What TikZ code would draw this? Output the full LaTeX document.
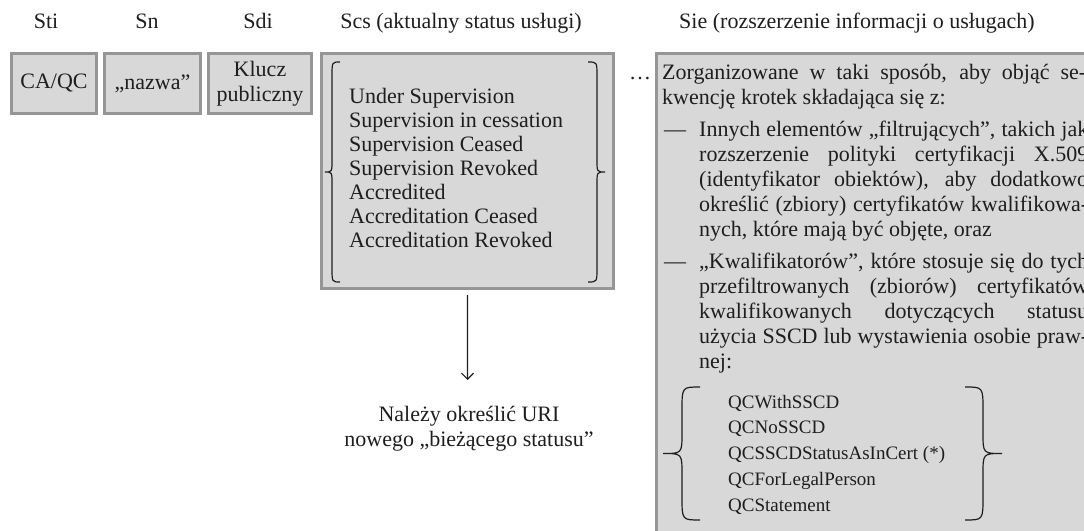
\documentclass[tikz,border=0pt]{standalone}
\usepackage{fontspec}
\setmainfont{Liberation Serif}
\usetikzlibrary{arrows.meta}
\definecolor{boxfill}{RGB}{216,216,216}
\definecolor{boxline}{RGB}{150,150,150}
\definecolor{ink}{RGB}{30,30,30}
\begin{document}
\begin{tikzpicture}[x=1bp,y=-1bp,
  box/.style={draw=boxline, line width=3bp, fill=boxfill, inner sep=0pt, anchor=north west,
              font=\fontsize{22bp}{25bp}\selectfont, text=ink},
  hd/.style={font=\fontsize{22bp}{25bp}\selectfont, inner sep=0pt, anchor=base, text=ink},
  txt/.style={font=\fontsize{22bp}{25bp}\selectfont, inner sep=0pt, anchor=base west, text=ink},
  qc/.style={font=\fontsize{19bp}{25bp}\selectfont, inner sep=0pt, anchor=base west, text=ink},
  br/.style={draw=ink, line width=1.2bp},
  arr/.style={draw=ink, line width=1.2bp, -{Straight Barb[length=6bp,width=12bp]}}
]
\useasboundingbox (0,0) rectangle (1084,531);
\clip (0,0) rectangle (1084,531);

% headers
\node[hd] (h1) at (46,29) {Sti};
\node[hd] (h2) at (147,29) {Sn};
\node[hd] (h3) at (258,29) {Sdi};
\node[hd] (h4) at (461,29) {Scs (aktualny status usługi)};
\node[hd] (h5) at (857,29) {Sie (rozszerzenie informacji o usługach)};

% small boxes
\node[box, minimum width=85bp, minimum height=60bp] (b1) at (10,52) {CA/QC};
\node[box, minimum width=96bp, minimum height=60bp] (b2) at (103,52) {„nazwa”};
\node[box, minimum width=103bp, minimum height=60bp, align=center] (b3) at (207,52) {Klucz\\publiczny};

% Scs box
\node[box, minimum width=292bp, minimum height=235bp] (scs) at (320,52) {};
\draw[br] (340,62) .. controls (332,62) .. (332,76) -- (332,160) .. controls (332,172) .. (325,172)
  .. controls (332,172) .. (332,184) -- (332,268) .. controls (332,282) .. (340,282);
\draw[br] (588,62) .. controls (597,62) .. (597,76) -- (597,160) .. controls (597,172) .. (605,172)
  .. controls (597,172) .. (597,184) -- (597,268) .. controls (597,282) .. (588,282);
\foreach \t [count=\i] in {Under Supervision, Supervision in cessation, Supervision Ceased,
  Supervision Revoked, Accredited, Accreditation Ceased, Accreditation Revoked}
  \node[txt] (s\i) at (349,80+24*\i) {\t};

% arrow and note
\coordinate (tip) at (467.5,380);
\draw[arr, shorten <=5bp] (scs.south) -- (tip);
\node[hd] (u1) at (469,421) {Należy określić URI};
\node[hd] (u2) at (469,446) {nowego „bieżącego statusu”};

% dots
\node[txt] (dots) at (629,80) {…};

% Sie box
\node[box, minimum width=600bp, minimum height=600bp] (sie) at (655,52) {};
\node[txt] (r1) at (662,80) {\makebox[424bp][s]{Zorganizowane w taki sposób, aby objąć se-}};
\node[txt] (r2) at (662,105) {kwencję krotek składająca się z:};
\node[txt] (d1) at (664,137) {—};
\node[txt] (r3) at (699,137) {\makebox[389bp][s]{Innych elementów „filtrujących”, takich jak}};
\node[txt] (r4) at (699,162) {\makebox[389bp][s]{rozszerzenie polityki certyfikacji X.509}};
\node[txt] (r5) at (699,187) {\makebox[389bp][s]{(identyfikator obiektów), aby dodatkowo}};
\node[txt] (r6) at (699,212) {\makebox[389bp][s]{określić (zbiory) certyfikatów kwalifikowa-}};
\node[txt] (r7) at (699,237) {nych, które mają być objęte, oraz};
\node[txt] (d2) at (664,269) {—};
\node[txt] (r8) at (699,269) {\makebox[389bp][s]{„Kwalifikatorów”, które stosuje się do tych}};
\node[txt] (r9) at (699,294) {\makebox[389bp][s]{przefiltrowanych (zbiorów) certyfikatów}};
\node[txt] (r10) at (699,319) {\makebox[389bp][s]{kwalifikowanych dotyczących statusu}};
\node[txt] (r11) at (699,344) {\makebox[389bp][s]{użycia SSCD lub wystawienia osobie praw-}};
\node[txt] (r12) at (699,369) {nej:};

% QC list with braces
\draw[br] (700,387) .. controls (682,387) .. (682,410) -- (682,433) .. controls (682,453.5) .. (663,453.5)
  .. controls (682,453.5) .. (682,474) -- (682,497) .. controls (682,520) .. (700,520);
\draw[br] (965,387) .. controls (983,387) .. (983,410) -- (983,433) .. controls (983,453.5) .. (1002,453.5)
  .. controls (983,453.5) .. (983,474) -- (983,497) .. controls (983,520) .. (965,520);
\foreach \t [count=\i] in {QCWithSSCD, QCNoSSCD, QCSSCDStatusAsInCert (*), QCForLegalPerson, QCStatement}
  \node[qc] (q\i) at (728,382.5+25.7*\i) {\t};
\end{tikzpicture}
\end{document}
